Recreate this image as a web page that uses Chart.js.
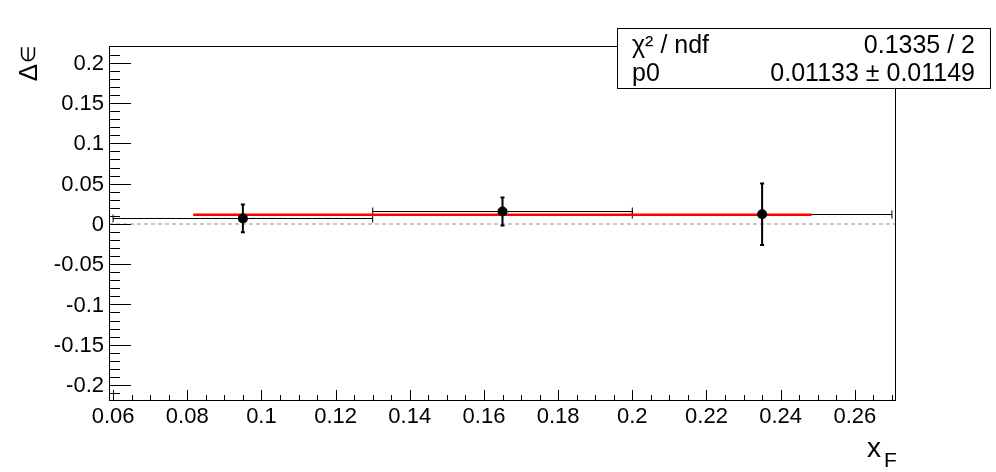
<!DOCTYPE html>
<html>
<head>
<meta charset="utf-8">
<script src="https://cdn.jsdelivr.net/npm/chart.js@4"></script>
<style>
  body { margin: 0; background: #fff; }
  canvas { display: block; }
</style>
</head>
<body>
<canvas id="fit_chart" width="996" height="472"></canvas>
<script>
// bins in xF and the measured asymmetry difference
const xCenters = [0.095, 0.165, 0.235]
const xLow = [0.06, 0.13, 0.2]
const xHigh = [0.13, 0.2, 0.27]
const deltaEps = [0.0068, 0.0155, 0.0120]
const deltaErr = [0.0172, 0.0174, 0.0382]

// pol0 fit
const fitP0 = 0.01133
const fitRange = [0.0816, 0.2483]
const statLines = [['\u03C7\u00B2 / ndf', '0.1335 / 2'], ['p0', '0.01133 \u00B1 0.01149']]

const xTickValues = [0.06, 0.08, 0.1, 0.12, 0.14, 0.16, 0.18, 0.2, 0.22, 0.24, 0.26]
const xTickLabels = ['0.06', '0.08', '0.1', '0.12', '0.14', '0.16', '0.18', '0.2', '0.22', '0.24', '0.26']
const yTickValues = [-0.2, -0.15, -0.1, -0.05, 0, 0.05, 0.1, 0.15, 0.2]
const yTickLabels = ['-0.2', '-0.15', '-0.1', '-0.05', '0', '0.05', '0.1', '0.15', '0.2']

const font = '"Liberation Sans", Arial, sans-serif'

const rootStyle = {
    id: 'rootStyle',
    beforeDatasetsDraw(chart) {
        const { ctx, chartArea: a, scales: { x, y } } = chart
        ctx.save()
        // dashed zero line
        ctx.strokeStyle = '#c8c8c8'
        ctx.lineWidth = 2
        ctx.setLineDash([4, 3])
        ctx.beginPath()
        ctx.moveTo(a.left, y.getPixelForValue(0))
        ctx.lineTo(a.right, y.getPixelForValue(0))
        ctx.stroke()
        ctx.setLineDash([])
        // horizontal error bars (bin widths)
        ctx.strokeStyle = '#000'
        ctx.lineWidth = 1
        xCenters.forEach((c, i) => {
            const py = Math.round(y.getPixelForValue(deltaEps[i])) + 0.5
            const x0 = x.getPixelForValue(xLow[i])
            const x1 = x.getPixelForValue(xHigh[i])
            ctx.beginPath()
            ctx.moveTo(x0, py); ctx.lineTo(x1, py)
            ctx.moveTo(x0, py - 4); ctx.lineTo(x0, py + 4)
            ctx.moveTo(x1, py - 4); ctx.lineTo(x1, py + 4)
            ctx.stroke()
        })
        ctx.restore()
    },
    afterDatasetDraw(chart, args) {
        if (args.index !== 1) return
        const { ctx, scales: { x, y } } = chart
        ctx.save()
        ctx.strokeStyle = '#000'
        ctx.lineWidth = 2
        xCenters.forEach((c, i) => {
            const px = x.getPixelForValue(c)
            const top = y.getPixelForValue(deltaEps[i] + deltaErr[i])
            const bot = y.getPixelForValue(deltaEps[i] - deltaErr[i])
            ctx.beginPath()
            ctx.moveTo(px, top); ctx.lineTo(px, bot)
            ctx.moveTo(px - 2, top); ctx.lineTo(px + 2, top)
            ctx.moveTo(px - 2, bot); ctx.lineTo(px + 2, bot)
            ctx.stroke()
        })
        ctx.restore()
    },
    afterDraw(chart) {
        const { ctx, chartArea: a, scales: { x, y } } = chart
        ctx.save()
        ctx.strokeStyle = '#000'
        ctx.lineWidth = 1
        ctx.strokeRect(a.left + 0.5, a.top + 0.5, a.right - a.left - 1, a.bottom - a.top - 1)

        // y ticks, minor every 0.01
        ctx.beginPath()
        for (let i = -21; i <= 21; i++) {
            const py = Math.round(y.getPixelForValue(i / 100)) + 0.5
            const len = i % 5 === 0 ? 22 : 11
            ctx.moveTo(a.left, py); ctx.lineTo(a.left + len, py)
        }
        // x ticks, minor every 0.005
        for (let k = 12; k <= 54; k++) {
            const px = Math.round(x.getPixelForValue(k * 0.005)) + 0.5
            const len = k % 4 === 0 ? 11 : 6
            ctx.moveTo(px, a.bottom); ctx.lineTo(px, a.bottom - len)
        }
        ctx.stroke()

        ctx.fillStyle = '#000'
        ctx.font = '22px ' + font
        ctx.textAlign = 'right'
        ctx.textBaseline = 'middle'
        yTickValues.forEach((v, i) => {
            ctx.fillText(yTickLabels[i], a.left - 5, y.getPixelForValue(v) + 1)
        })
        ctx.textAlign = 'center'
        ctx.textBaseline = 'alphabetic'
        xTickValues.forEach((v, i) => {
            ctx.fillText(xTickLabels[i], x.getPixelForValue(v), a.bottom + 22)
        })

        // axis titles
        ctx.save()
        ctx.translate(37, a.top)
        ctx.rotate(-Math.PI / 2)
        ctx.textAlign = 'right'
        ctx.font = '20px ' + font
        ctx.fillText('\u2208', 0, -2)
        const ew = ctx.measureText('\u2208').width
        ctx.font = '26px ' + font
        ctx.fillText('\u0394', -ew - 1, 0)
        ctx.restore()
        ctx.textAlign = 'left'
        ctx.font = '28px ' + font
        ctx.fillText('x', 867, 457)
        ctx.font = '21px ' + font
        ctx.fillText('F', 884, 467)

        // stats box
        const bx = 617, by = 28, bw = 373, bh = 60
        ctx.fillStyle = '#fff'
        ctx.fillRect(bx, by, bw, bh)
        ctx.strokeRect(bx + 0.5, by + 0.5, bw, bh)
        ctx.fillStyle = '#000'
        ctx.font = '25px ' + font
        statLines.forEach((ln, i) => {
            const ty = by + 25 + i * 28
            ctx.textAlign = 'left'
            ctx.fillText(ln[0], bx + 15, ty)
            ctx.textAlign = 'right'
            ctx.fillText(ln[1], bx + bw - 15, ty)
        })
        ctx.restore()
    }
}

const config = {
    type: 'scatter',
    data: {
        datasets: [
            {
                data: xCenters.map((c, i) => ({ x: c, y: deltaEps[i] })),
                pointRadius: 5,
                pointBackgroundColor: '#000',
                pointBorderColor: '#000',
                pointBorderWidth: 0,
                order: 1
            }, {
                type: 'line',
                data: [{ x: fitRange[0], y: fitP0 }, { x: fitRange[1], y: fitP0 }],
                borderColor: '#ff0000',
                borderWidth: 2.5,
                pointRadius: 0,
                fill: false,
                order: 2
            }
        ]
    },
    options: {
        responsive: false,
        animation: false,
        devicePixelRatio: 1,
        layout: { padding: { left: 0, top: 46, right: 100, bottom: 0 } },
        plugins: { legend: { display: false }, tooltip: { enabled: false } },
        scales: {
            x: {
                type: 'linear', min: 0.0589, max: 0.2711,
                grid: { display: false }, border: { display: false },
                ticks: { display: false },
                afterFit(s) { s.height = 71 }
            },
            y: {
                type: 'linear', min: -0.2199, max: 0.2209,
                grid: { display: false }, border: { display: false },
                ticks: { display: false },
                afterFit(s) { s.width = 109 }
            }
        }
    },
    plugins: [rootStyle]
}

new Chart(document.getElementById('fit_chart'), config)
</script>
</body>
</html>
